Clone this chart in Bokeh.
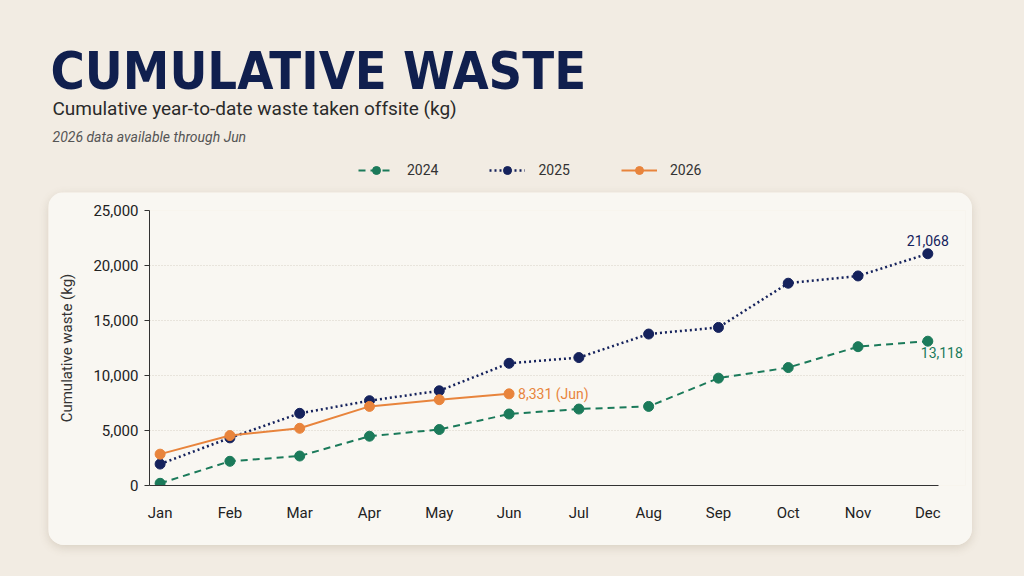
from bokeh.plotting import figure
from bokeh.layouts import column, row
from bokeh.models import (Range1d, FixedTicker, NumeralTickFormatter, Label,
                          Legend, LegendItem)
from bokeh.embed import file_html
from bokeh.resources import INLINE

months = ["Jan", "Feb", "Mar", "Apr", "May", "Jun",
          "Jul", "Aug", "Sep", "Oct", "Nov", "Dec"]
waste_2024 = [200, 2200, 2680, 4480, 5090, 6500, 6950, 7190, 9760, 10720, 12620, 13118]
waste_2025 = [1950, 4330, 6560, 7710, 8610, 11110, 11630, 13770, 14370, 18390, 19050, 21068]
waste_2026 = [2850, 4540, 5200, 7190, 7800, 8331]
y_ticks = [0, 5000, 10000, 15000, 20000, 25000]
series_names = ["2024", "2025", "2026"]

BG = "#f2ece3"
CARD = "#f9f7f2"
NAVY = "#15225c"
GREEN = "#1b7a5a"
ORANGE = "#e8843c"
FONT = "Roboto"
TITLE_FONT = "'DejaVu Sans Condensed', 'Roboto', sans-serif"

STYLE = {
    "2024": dict(line_color=GREEN, line_width=2, line_dash="7 5"),
    "2025": dict(line_color=NAVY, line_width=2.5, line_dash="2 3"),
    "2026": dict(line_color=ORANGE, line_width=2),
}
DOT = {"2024": GREEN, "2025": NAVY, "2026": ORANGE}
data = {"2024": waste_2024, "2025": waste_2025, "2026": waste_2026}
x_idx = list(range(len(months)))

# ---------------- header (titles + legend) ----------------
HW, HH = 1024, 192
hp = figure(width=HW, height=HH, output_backend="svg", toolbar_location=None,
            x_axis_type=None, y_axis_type=None, min_border=0,
            min_border_left=0, min_border_right=0, min_border_top=0,
            min_border_bottom=0,
            x_range=Range1d(0, 1), y_range=Range1d(0, 1))
hp.border_fill_color = BG
hp.background_fill_color = BG
hp.outline_line_color = None
hp.grid.visible = False

def hy(py):
    return HH - py

hp.add_layout(Label(x=50, y=hy(70), x_units="screen", y_units="screen",
                    text="CUMULATIVE WASTE", text_baseline="alphabetic",
                    text_font=TITLE_FONT, text_font_style="bold",
                    text_font_size="52px", text_color="#101f4e"))
hp.add_layout(Label(x=52, y=hy(108), x_units="screen", y_units="screen",
                    text="Cumulative year-to-date waste taken offsite (kg)",
                    text_baseline="alphabetic", text_font=FONT,
                    text_font_size="19px", text_color="#2a2a2a"))
hp.add_layout(Label(x=52, y=hy(136), x_units="screen", y_units="screen",
                    text="2026 data available through Jun",
                    text_baseline="alphabetic", text_font=FONT,
                    text_font_style="italic", text_font_size="14px",
                    text_color="#555555"))

# legend renderers: the real series, which fall outside this header's ranges
items = []
for name in series_names:
    vals = data[name]
    xs = x_idx[:len(vals)]
    lr = hp.line(xs, vals, **STYLE[name])
    sr = hp.scatter(xs, vals, size=10, fill_color=DOT[name], line_color=DOT[name])
    items.append(LegendItem(label=name, renderers=[lr, sr]))
legend = Legend(items=items, orientation="horizontal", location=(358, hy(180)),
                glyph_width=36, glyph_height=20, label_height=20,
                label_standoff=13, spacing=51, padding=0, margin=0,
                border_line_color=None, background_fill_alpha=0,
                label_text_font=FONT, label_text_font_size="14px",
                label_text_color="#333333")
hp.add_layout(legend, "center")

# ---------------- chart card ----------------
CW, CH = 924, 353
x_start, x_axis_end, x_end = -0.152, 11.156, 11.54

p = figure(width=CW, height=CH, output_backend="svg", toolbar_location=None,
           x_range=Range1d(x_start, x_end), y_range=Range1d(0, 25000),
           min_border_left=101, min_border_right=7, min_border_top=18,
           min_border_bottom=60)
p.margin = (0, 0, 0, 48)
p.styles = {"border-radius": "16px", "overflow": "hidden",
            "box-shadow": "0 3px 10px rgba(120, 100, 70, 0.20)"}
p.border_fill_color = CARD
p.background_fill_color = CARD
p.outline_line_color = None

p.xaxis.ticker = FixedTicker(ticks=x_idx)
p.xaxis.major_label_overrides = {i: m for i, m in enumerate(months)}
p.xaxis.bounds = (x_start, x_axis_end)
p.xaxis.major_tick_line_color = None
p.xaxis.minor_tick_line_color = None
p.xaxis.axis_line_color = "#333333"
p.xaxis.axis_line_width = 1.2
p.xaxis.major_label_standoff = 12
p.xaxis.major_label_text_font = FONT
p.xaxis.major_label_text_font_size = "15px"
p.xaxis.major_label_text_color = "#222222"

p.yaxis.ticker = FixedTicker(ticks=y_ticks)
p.yaxis.formatter = NumeralTickFormatter(format="0,0")
p.yaxis.major_tick_out = 5
p.yaxis.major_tick_in = 0
p.yaxis.minor_tick_line_color = None
p.yaxis.axis_line_color = "#333333"
p.yaxis.major_tick_line_color = "#333333"
p.yaxis.major_label_standoff = 6
p.yaxis.major_label_text_font = FONT
p.yaxis.major_label_text_font_size = "15px"
p.yaxis.major_label_text_color = "#222222"
p.yaxis.axis_label = "Cumulative waste (kg)"
p.yaxis.axis_label_text_font = FONT
p.yaxis.axis_label_text_font_style = "normal"
p.yaxis.axis_label_text_font_size = "15px"
p.yaxis.axis_label_text_color = "#333333"
p.yaxis.axis_label_standoff = 14

p.xgrid.grid_line_color = None
p.ygrid.ticker = FixedTicker(ticks=[5000, 10000, 15000, 20000])
p.ygrid.bounds = (x_start, 11.11)
p.ygrid.grid_line_color = "#d6d0c6"
p.ygrid.grid_line_dash = "1 2"
p.ygrid.grid_line_width = 1

for name in series_names:
    vals = data[name]
    xs = x_idx[:len(vals)]
    p.line(xs, vals, **STYLE[name])
    p.scatter(xs, vals, size=10, fill_color=DOT[name], line_color=DOT[name])

p.add_layout(Label(x=11, y=waste_2025[-1], text=f"{waste_2025[-1]:,}",
                   text_align="center", text_baseline="bottom", y_offset=8,
                   text_color=NAVY, text_font=FONT, text_font_size="14px"))
p.add_layout(Label(x=11, y=waste_2024[-1], text=f"{waste_2024[-1]:,}",
                   text_align="center", text_baseline="top", x_offset=14,
                   y_offset=-6, text_color=GREEN, text_font=FONT,
                   text_font_size="14px"))
p.add_layout(Label(x=len(waste_2026) - 1, y=waste_2026[-1],
                   text=f"{waste_2026[-1]:,} ({months[len(waste_2026) - 1]})",
                   text_align="left", text_baseline="middle", x_offset=9,
                   text_color=ORANGE, text_font=FONT, text_font_size="14px"))

page = column(row(hp), row(p), width=1024, height=576, spacing=0)
page.styles = {"background-color": BG}

open("out.html", "w").write(file_html(page, INLINE))
